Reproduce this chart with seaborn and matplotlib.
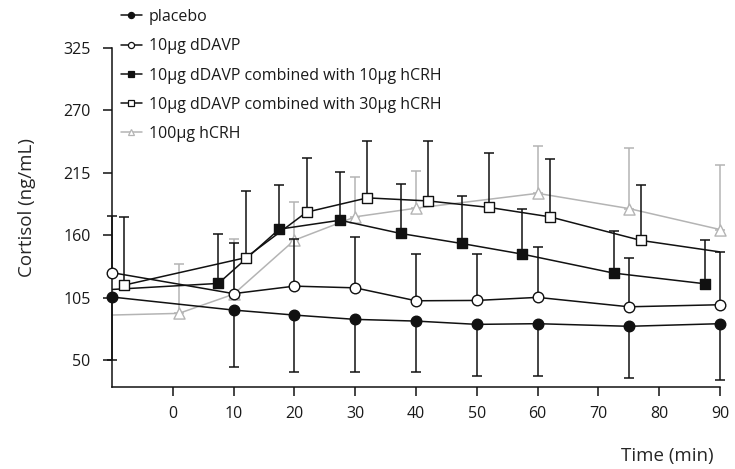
import numpy as np
import pandas as pd
import matplotlib
matplotlib.use("Agg")
import matplotlib.pyplot as plt
from matplotlib.lines import Line2D
import seaborn as sns

# ---- data (cortisol, ng/mL; mean and one-sided SD) ----
sample_times = [-10, 10, 20, 30, 40, 50, 60, 75, 90]
hcrh_times = [-12.5, 1, 10, 20, 30, 40, 60, 75, 90]

placebo = [105.5, 94.0, 89.6, 85.8, 84.3, 81.4, 82.0, 79.7, 82.0]
placebo_sd = [55.5, 49.9, 49.9, 46.6, 44.6, 45.5, 46.1, 45.3, 49.6]

ddavp = [127.0, 108.5, 115.1, 113.6, 102.2, 102.5, 105.2, 96.9, 98.7]
ddavp_sd = [50.0, 44.2, 41.9, 44.9, 41.1, 40.8, 44.5, 42.6, 46.6]

ddavp_crh10 = [111.4, 117.5, 165.3, 173.2, 161.5, 152.7, 143.3, 126.6, 117.2]
ddavp_crh10_sd = [40.0, 43.4, 39.0, 42.7, 44.0, 41.8, 40.2, 37.0, 38.4]

ddavp_crh30 = [116.0, 140.2, 180.3, 192.9, 190.2, 184.5, 176.2, 155.4, 143.7]
ddavp_crh30_sd = [59.6, 58.6, 47.5, 50.2, 52.9, 48.3, 51.3, 49.2, 50.0]

hcrh = [89.3, 91.1, 108.0, 155.6, 176.2, 183.8, 196.9, 183.5, 165.0]
hcrh_sd = [43.0, 43.2, 49.0, 33.4, 35.2, 32.7, 41.5, 53.4, 56.7]

labels = [
    "placebo",
    "10µg dDAVP",
    "10µg dDAVP combined with 10µg hCRH",
    "10µg dDAVP combined with 30µg hCRH",
    "100µg hCRH",
]
y_ticks = [50, 105, 160, 215, 270, 325]
x_ticks = [0, 10, 20, 30, 40, 50, 60, 70, 80, 90]

# ---- style ----
sns.set_theme(style="ticks")
plt.rcParams["font.family"] = ["Open Sans", "DejaVu Sans"]
plt.rcParams["text.color"] = "#1a1a1a"

BLACK = "#111111"
GREY = "#b4b4b4"
LW = 1.1
XMIN, XMAX = -10, 90
YMIN, YMAX = 26.2, 325

# label, times, values, sd, direction (-1 down / +1 up), marker, face, colour, dodge, size, z
series = [
    (labels[4], hcrh_times, hcrh, hcrh_sd, +1, "^", "white", GREY, 0.0, 8.0, 2),
    (labels[0], sample_times, placebo, placebo_sd, -1, "o", BLACK, BLACK, 0.0, 7.6, 3),
    (labels[1], sample_times, ddavp, ddavp_sd, +1, "o", "white", BLACK, 0.0, 7.6, 3),
    (labels[2], sample_times, ddavp_crh10, ddavp_crh10_sd, +1, "s", BLACK, BLACK, -2.5, 7.8, 3),
    (labels[3], sample_times, ddavp_crh30, ddavp_crh30_sd, +1, "s", "white", BLACK, 2.0, 7.6, 3),
]

fig = plt.figure(figsize=(7.35, 4.69), dpi=100)
ax = fig.add_axes([112 / 735, 1 - 387 / 469, 608 / 735, 339 / 469])

handles = {}
for label, times, vals, sd, direction, marker, face, col, dodge, ms, z in series:
    t = np.asarray(times, dtype=float) + dodge
    v = np.asarray(vals, dtype=float)
    e = np.asarray(sd, dtype=float)
    df = pd.DataFrame({"t": t, "v": v})
    sns.lineplot(data=df, x="t", y="v", ax=ax, color=col, lw=LW,
                 estimator=None, sort=False, zorder=z)
    inside = (t >= XMIN - 1e-9) & (t <= XMAX + 1e-9)
    lo = np.where(direction < 0, e, 0.0)[inside]
    hi = np.where(direction > 0, e, 0.0)[inside]
    ax.errorbar(t[inside], v[inside], yerr=[lo, hi], fmt="none", ecolor=col,
                elinewidth=LW, capsize=3.8, capthick=LW, clip_on=False, zorder=z)
    sns.scatterplot(x=t[inside], y=v[inside], ax=ax, marker=marker, s=ms ** 2,
                    facecolor=face, edgecolor=col, linewidth=1.0,
                    clip_on=False, zorder=z + 0.5, legend=False)
    handles[label] = Line2D([0], [0], color=col, lw=LW, marker=marker,
                            markersize=ms * 0.58, markerfacecolor=face,
                            markeredgecolor=col, markeredgewidth=0.9)

ax.set_xlim(XMIN, XMAX)
ax.set_ylim(YMIN, YMAX)
ax.set_xticks(x_ticks)
ax.set_yticks(y_ticks)
ax.set_xticklabels([str(x) for x in x_ticks])
ax.set_yticklabels([str(y) for y in y_ticks])

sns.despine(ax=ax)
for side in ("left", "bottom"):
    ax.spines[side].set_linewidth(LW)
    ax.spines[side].set_color(BLACK)
ax.tick_params(axis="both", direction="out", length=6.5, width=LW,
               color=BLACK, labelsize=11.5, labelcolor="#1a1a1a")
ax.tick_params(axis="x", pad=7)
ax.tick_params(axis="y", pad=9)

ax.set_xlabel("Time (min)", fontsize=13.5)
ax.set_ylabel("Cortisol (ng/mL)", fontsize=13.5)
ax.xaxis.set_label_coords(0.913, -0.176)
ax.yaxis.set_label_coords(-0.125, 0.53)

fig.legend([handles[l] for l in labels], labels, loc="upper left",
           bbox_to_anchor=(121 / 735, 1 - 9 / 469), frameon=False,
           borderpad=0, borderaxespad=0, handlelength=1.3, handletextpad=0.45,
           labelspacing=0.83, fontsize=11.5)

fig.savefig("out.png", dpi=100)
